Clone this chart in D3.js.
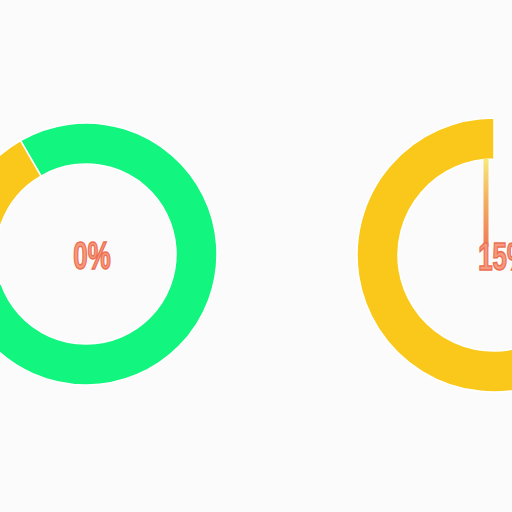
<!DOCTYPE html>
<html>
<head>
<meta charset="utf-8">
<script src="https://cdn.jsdelivr.net/npm/d3@7"></script>
<style>
  html, body { margin: 0; padding: 0; background: #fbfbfb; }
  svg { display: block; }
</style>
</head>
<body>
<div id="chart"></div>
<script>
// Left donut: two segments, starting at -30deg going clockwise
const leftLabels = ['Green', 'Yellow'];
const leftValues = [78, 22];
const leftColors = ['#12f57e', '#f9c81a'];
const leftText = '0%';

// Right donut: yellow arc plus an empty remainder
const rightLabels = ['Empty', 'Yellow'];
const rightValues = [45, 55];
const rightColors = ['none', '#f9c81a'];
const rightText = '15%';

const width = 512, height = 512;

const svg = d3.select('#chart')
    .append('svg')
    .attr('width', width)
    .attr('height', height);

svg.append('rect')
    .attr('width', width)
    .attr('height', height)
    .attr('fill', '#fbfbfb');

const defs = svg.append('defs');

function drawDonut(opts) {
    const g = svg.append('g')
        .attr('transform', `translate(${opts.cx},${opts.cy})`);

    const pie = d3.pie()
        .sort(null)
        .value(d => d.value)
        .startAngle(opts.start)
        .endAngle(opts.start + Math.PI * 2);

    const arc = d3.arc()
        .innerRadius(opts.inner)
        .outerRadius(opts.outer);

    const data = opts.labels.map((l, i) => ({ label: l, value: opts.values[i], color: opts.colors[i] }));

    g.selectAll('path')
        .data(pie(data))
        .enter()
        .append('path')
        .attr('d', arc)
        .attr('fill', d => d.data.color)
        .attr('stroke', d => d.data.color === 'none' ? 'none' : '#ffffff')
        .attr('stroke-width', 1.5);

    if (opts.needle) {
        // gradient in user space, a vertical line has a zero-width bbox
        const grad = defs.append('linearGradient')
            .attr('id', 'needle-grad')
            .attr('gradientUnits', 'userSpaceOnUse')
            .attr('x1', 0).attr('y1', -opts.inner)
            .attr('x2', 0).attr('y2', -8);
        grad.append('stop').attr('offset', '0%').attr('stop-color', '#f7ea7a');
        grad.append('stop').attr('offset', '45%').attr('stop-color', '#f4b060');
        grad.append('stop').attr('offset', '100%').attr('stop-color', '#ef7a5a');

        g.append('line')
            .attr('x1', -8).attr('x2', -8)
            .attr('y1', -opts.inner).attr('y2', -8)
            .attr('stroke', 'url(#needle-grad)')
            .attr('stroke-width', 5);
    }

    g.append('text')
        .attr('transform', `translate(${opts.textDx},15) scale(0.68,1)`)
        .attr('text-anchor', 'middle')
        .style('font-family', '"Liberation Sans", Arial, sans-serif')
        .style('font-weight', 'bold')
        .style('font-size', '38px')
        .attr('fill', '#f59a80')
        .attr('stroke', '#ec7050')
        .attr('stroke-width', 1.6)
        .text(opts.text);
}

drawDonut({
    cx: 86, cy: 254, inner: 90, outer: 131,
    start: -Math.PI / 6,
    labels: leftLabels, values: leftValues, colors: leftColors,
    text: leftText, textDx: 6, needle: false
});

drawDonut({
    cx: 494, cy: 255, inner: 96, outer: 137,
    start: 0,
    labels: rightLabels, values: rightValues, colors: rightColors,
    text: rightText, textDx: 10, needle: true
});
</script>
</body>
</html>
